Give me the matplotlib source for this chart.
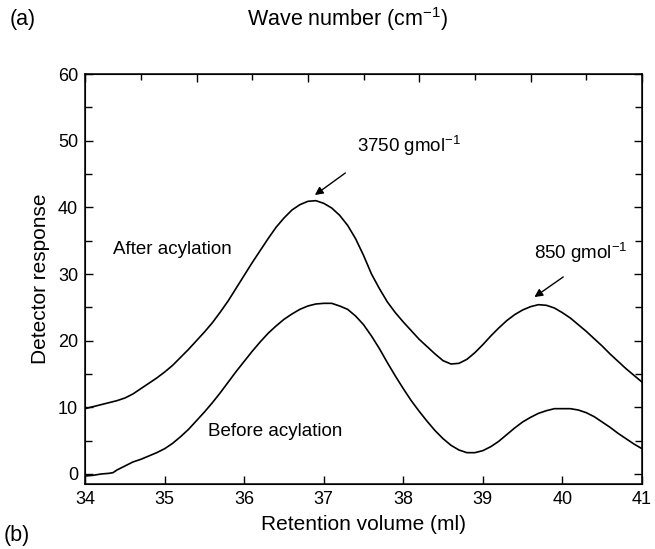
import matplotlib
matplotlib.use('Agg')
import matplotlib.pyplot as plt
import numpy as np

plt.rcParams['font.family'] = ['Liberation Sans', 'DejaVu Sans']

# Retention volume (ml) and detector response
vol_after = [34.0, 34.1, 34.2, 34.3, 34.4, 34.5, 34.6, 34.7, 34.8, 34.9,
             35.0, 35.1, 35.2, 35.3, 35.4, 35.5, 35.6, 35.7, 35.8, 35.9,
             36.0, 36.1, 36.2, 36.3, 36.4, 36.5, 36.6, 36.7, 36.8, 36.9,
             37.0, 37.1, 37.2, 37.3, 37.4, 37.5, 37.6, 37.7, 37.8, 37.9,
             38.0, 38.1, 38.2, 38.3, 38.4, 38.5, 38.6, 38.7, 38.8, 38.9,
             39.0, 39.1, 39.2, 39.3, 39.4, 39.5, 39.6, 39.7, 39.8, 39.9,
             40.0, 40.1, 40.2, 40.3, 40.4, 40.5, 40.6, 40.7, 40.8, 40.9,
             41.0]
resp_after = [9.8, 10.1, 10.4, 10.7, 11.0, 11.4, 12.0, 12.8, 13.6, 14.4,
              15.3, 16.3, 17.5, 18.7, 20.0, 21.3, 22.7, 24.3, 26.0, 27.9,
              29.8, 31.7, 33.5, 35.3, 37.0, 38.4, 39.6, 40.4, 40.9, 41.0,
              40.6, 39.9, 38.8, 37.3, 35.3, 32.8, 30.0, 27.8, 25.8, 24.2,
              22.8, 21.5, 20.2, 19.1, 18.0, 17.0, 16.5, 16.6, 17.2, 18.2,
              19.4, 20.7, 21.9, 23.0, 23.9, 24.6, 25.1, 25.4, 25.3, 24.9,
              24.2, 23.4, 22.4, 21.4, 20.3, 19.2, 18.0, 16.9, 15.8, 14.8,
              13.8]

vol_before = [34.0, 34.1, 34.2, 34.3, 34.35, 34.4, 34.5, 34.6, 34.7, 34.8,
              34.9, 35.0, 35.1, 35.2, 35.3, 35.4, 35.5, 35.6, 35.7, 35.8,
              35.9, 36.0, 36.1, 36.2, 36.3, 36.4, 36.5, 36.6, 36.7, 36.8,
              36.9, 37.0, 37.1, 37.2, 37.3, 37.4, 37.5, 37.6, 37.7, 37.8,
              37.9, 38.0, 38.1, 38.2, 38.3, 38.4, 38.5, 38.6, 38.7, 38.8,
              38.9, 39.0, 39.1, 39.2, 39.3, 39.4, 39.5, 39.6, 39.7, 39.8,
              39.9, 40.0, 40.1, 40.2, 40.3, 40.4, 40.5, 40.6, 40.7, 40.8,
              40.9, 41.0]
resp_before = [-0.3, -0.2, 0.0, 0.1, 0.2, 0.6, 1.2, 1.8, 2.2, 2.7,
               3.2, 3.8, 4.6, 5.6, 6.7, 8.0, 9.3, 10.7, 12.2, 13.8,
               15.4, 16.9, 18.4, 19.8, 21.1, 22.2, 23.2, 24.0, 24.7, 25.2,
               25.5, 25.6, 25.6, 25.2, 24.7, 23.7, 22.4, 20.7, 18.8, 16.7,
               14.7, 12.8, 11.0, 9.4, 7.9, 6.5, 5.3, 4.3, 3.6, 3.2,
               3.2, 3.5, 4.1, 4.9, 5.9, 6.9, 7.8, 8.5, 9.1, 9.5,
               9.8, 9.8, 9.8, 9.6, 9.2, 8.6, 7.8, 7.0, 6.1, 5.3,
               4.5, 3.8]

x_ticks = [34, 35, 36, 37, 38, 39, 40, 41]
y_ticks = [0, 10, 20, 30, 40, 50, 60]

fig = plt.figure(figsize=(6.55, 5.49), dpi=100)
ax = fig.add_axes([0.130, 0.1184, 0.850, 0.7468])

ax.plot(vol_after, resp_after, color='black', lw=1.2)
ax.plot(vol_before, resp_before, color='black', lw=1.2)

ax.set_xlim(34, 41)
ax.set_ylim(-1.5, 60)
ax.set_xticks(x_ticks)
ax.set_yticks(y_ticks)
ax.set_yticks(np.arange(5, 60, 10), minor=True)
ax.tick_params(axis='both', which='major', direction='in', length=6,
               width=1.0, labelsize=13, pad=5)
ax.tick_params(axis='y', which='minor', direction='in', length=5, width=1.0)
ax.tick_params(axis='y', which='both', right=True)
for s in ax.spines.values():
    s.set_linewidth(1.1)

ax.set_xlabel('Retention volume (ml)', fontsize=15, labelpad=5)
ax.set_ylabel('Detector response', fontsize=15, labelpad=6)

# top axis (wave number), unlabeled ticks
top = ax.twiny()
top.set_xlim(34, 41)
top.set_xticks([34 + 1.4 * k for k in range(6)])
top.set_xticks([34 + 0.7 + 1.4 * k for k in range(5)], minor=True)
top.tick_params(axis='x', which='major', direction='in', length=6, width=1.0,
                labeltop=False)
top.tick_params(axis='x', which='minor', direction='in', length=4, width=1.0)

ax.text(34.35, 33.7, 'After acylation', fontsize=13.5, va='center', ha='left')
ax.text(35.55, 6.3, 'Before acylation', fontsize=13.5, va='center', ha='left')

ax.annotate('', xy=(36.86, 41.6), xytext=(37.30, 45.4),
            arrowprops=dict(arrowstyle='-|>', color='black', lw=1.0,
                            mutation_scale=12))
ax.text(37.42, 49.2, '3750 gmol$^{\\mathregular{-1}}$', fontsize=13.5,
        va='center', ha='left')
ax.annotate('', xy=(39.62, 26.3), xytext=(40.04, 29.8),
            arrowprops=dict(arrowstyle='-|>', color='black', lw=1.0,
                            mutation_scale=12))
ax.text(39.64, 33.2, '850 gmol$^{\\mathregular{-1}}$', fontsize=13.5,
        va='center', ha='left')

fig.text(10 / 655, 1 - 19 / 549, '(a)', fontsize=15.5, va='center', ha='left')
fig.text(348 / 655, 1 - 19 / 549, 'Wave number (cm$^{\\mathregular{-1}}$)',
         fontsize=15.5, va='center', ha='center')
fig.text(4 / 655, 1 - 535 / 549, '(b)', fontsize=15.5, va='center', ha='left')

fig.savefig('out.png', dpi=100)
